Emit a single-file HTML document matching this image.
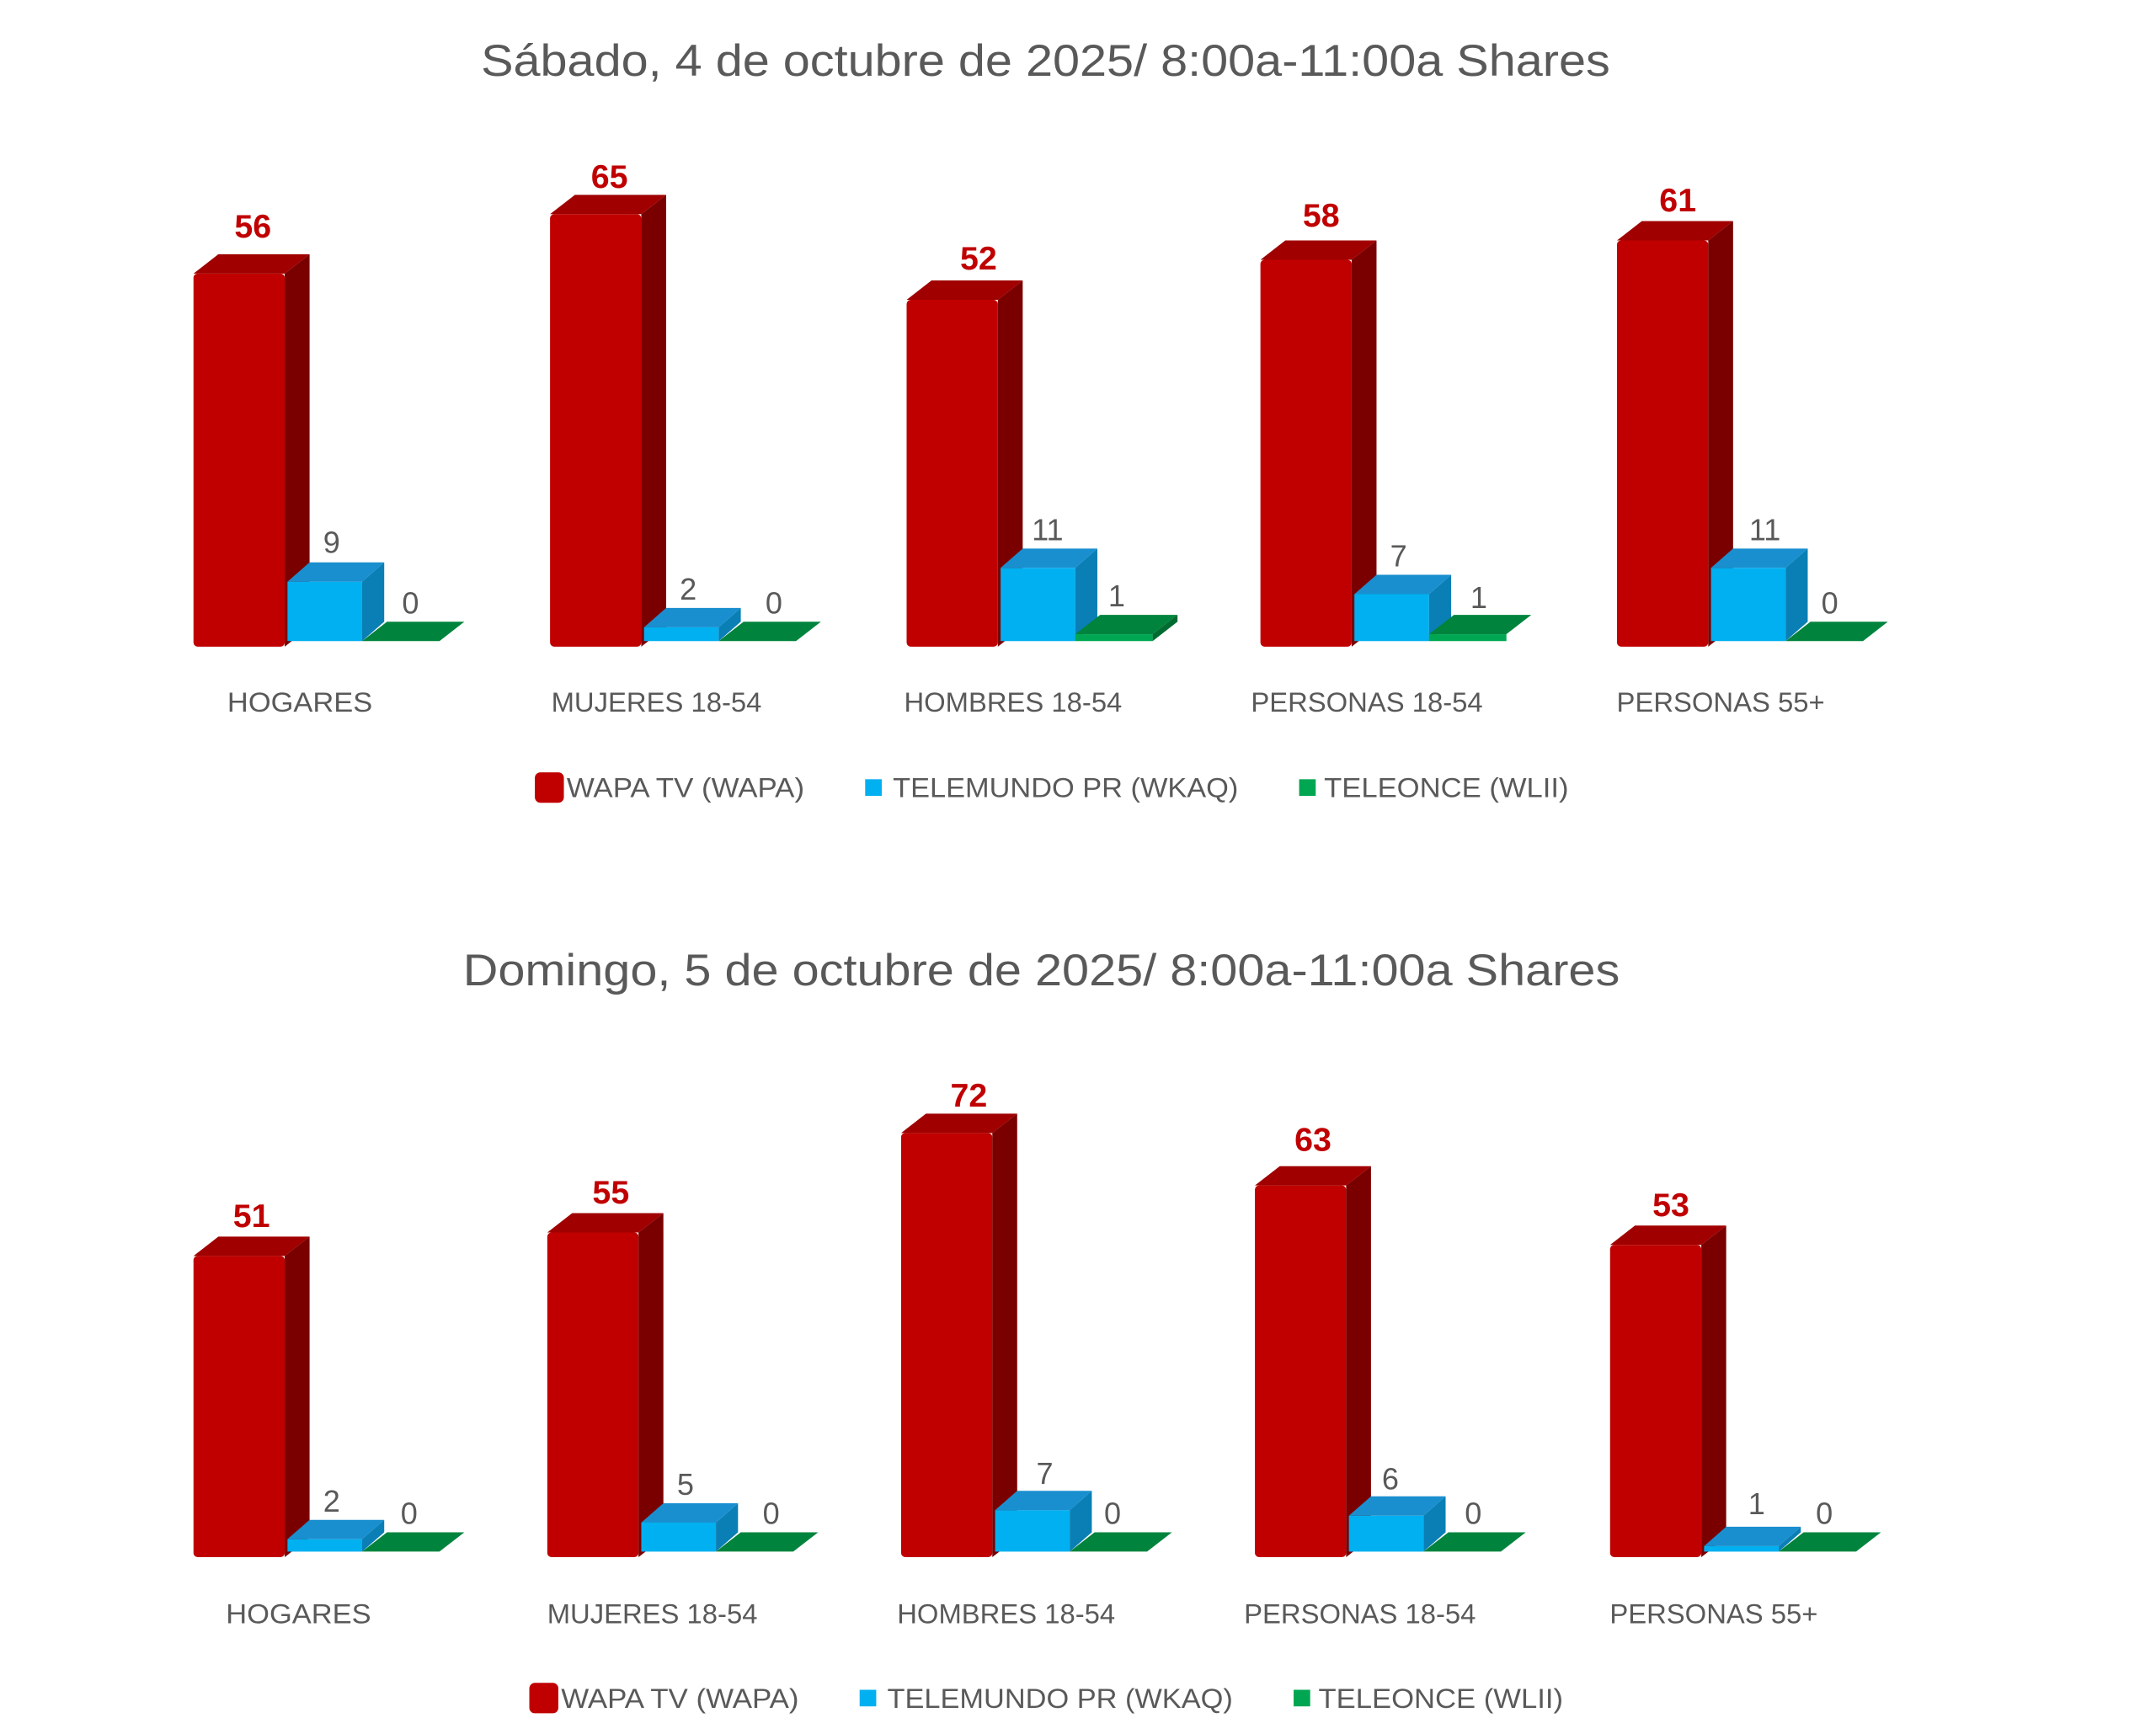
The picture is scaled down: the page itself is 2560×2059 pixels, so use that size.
<!DOCTYPE html>
<html><head><meta charset="utf-8"><style>
html,body{margin:0;padding:0;background:#fff;}
svg{display:block;}
text{font-family:"Liberation Sans",sans-serif;}
.t{font-size:32px;fill:#595959;}
.rv{font-size:24px;font-weight:bold;fill:#c00000;}
.gv{font-size:22px;fill:#595959;}
.c{font-size:20px;fill:#595959;}
.l{font-size:20px;fill:#595959;}
</style></head><body>
<svg width="2560" height="2059" viewBox="0 0 1560 1255" preserveAspectRatio="none" xmlns="http://www.w3.org/2000/svg">
<text class="t" x="348" y="55" textLength="817" lengthAdjust="spacingAndGlyphs">Sábado, 4 de octubre de 2025/ 8:00a-11:00a Shares</text>

<!-- Chart 1, b=468 -->
<g transform="translate(140,0)">
<rect x="0" y="198" width="66" height="270" rx="3" fill="#c00000"/>
<polygon points="66,198 84,184 84,454 66,468" fill="#7a0000"/>
<polygon points="0,198 18,184 84,184 66,198" fill="#a00000"/>
<rect x="68" y="421" width="54" height="43" fill="#00b0f0"/>
<polygon points="122,421 138,407 138,450 122,464" fill="#0a7fb5"/>
<polygon points="68,421 84,407 138,407 122,421" fill="#1a8fcf"/>
<polygon points="122,464 178,464 196,450 140,450" fill="#00843d"/>
<text class="rv" x="43" y="172" text-anchor="middle">56</text>
<text class="gv" x="100" y="400" text-anchor="middle">9</text>
<text class="gv" x="157" y="444" text-anchor="middle">0</text>
<text class="c" x="77" y="515" text-anchor="middle" textLength="105" lengthAdjust="spacingAndGlyphs">HOGARES</text>
</g>
<g transform="translate(398,0)">
<rect x="0" y="155" width="66" height="313" rx="3" fill="#c00000"/>
<polygon points="66,155 84,141 84,454 66,468" fill="#7a0000"/>
<polygon points="0,155 18,141 84,141 66,155" fill="#a00000"/>
<rect x="68" y="454" width="54" height="10" fill="#00b0f0"/>
<polygon points="122,454 138,440 138,450 122,464" fill="#0a7fb5"/>
<polygon points="68,454 84,440 138,440 122,454" fill="#1a8fcf"/>
<polygon points="122,464 178,464 196,450 140,450" fill="#00843d"/>
<text class="rv" x="43" y="136" text-anchor="middle">65</text>
<text class="gv" x="100" y="434" text-anchor="middle">2</text>
<text class="gv" x="162" y="444" text-anchor="middle">0</text>
<text class="c" x="77" y="515" text-anchor="middle">MUJERES 18-54</text>
</g>
<g transform="translate(656,0)">
<rect x="0" y="217" width="66" height="251" rx="3" fill="#c00000"/>
<polygon points="66,217 84,203 84,454 66,468" fill="#7a0000"/>
<polygon points="0,217 18,203 84,203 66,217" fill="#a00000"/>
<rect x="68" y="411" width="54" height="53" fill="#00b0f0"/>
<polygon points="122,411 138,397 138,450 122,464" fill="#0a7fb5"/>
<polygon points="68,411 84,397 138,397 122,411" fill="#1a8fcf"/>
<rect x="122" y="459" width="56" height="5" fill="#00a651"/>
<polygon points="122,459 178,459 196,445 140,445" fill="#00843d"/>
<polygon points="178,459 196,445 196,450 178,464" fill="#006b30"/>
<text class="rv" x="52" y="195" text-anchor="middle">52</text>
<text class="gv" x="102" y="391" text-anchor="middle">11</text>
<text class="gv" x="152" y="439" text-anchor="middle">1</text>
<text class="c" x="77" y="515" text-anchor="middle">HOMBRES 18-54</text>
</g>
<g transform="translate(912,0)">
<rect x="0" y="188" width="66" height="280" rx="3" fill="#c00000"/>
<polygon points="66,188 84,174 84,454 66,468" fill="#7a0000"/>
<polygon points="0,188 18,174 84,174 66,188" fill="#a00000"/>
<rect x="68" y="430" width="54" height="34" fill="#00b0f0"/>
<polygon points="122,430 138,416 138,450 122,464" fill="#0a7fb5"/>
<polygon points="68,430 84,416 138,416 122,430" fill="#1a8fcf"/>
<rect x="122" y="459" width="56" height="5" fill="#00a651"/>
<polygon points="122,459 178,459 196,445 140,445" fill="#00843d"/>
<text class="rv" x="44" y="164" text-anchor="middle">58</text>
<text class="gv" x="100" y="410" text-anchor="middle">7</text>
<text class="gv" x="158" y="440" text-anchor="middle">1</text>
<text class="c" x="77" y="515" text-anchor="middle">PERSONAS 18-54</text>
</g>
<g transform="translate(1170,0)">
<rect x="0" y="174" width="66" height="294" rx="3" fill="#c00000"/>
<polygon points="66,174 84,160 84,454 66,468" fill="#7a0000"/>
<polygon points="0,174 18,160 84,160 66,174" fill="#a00000"/>
<rect x="68" y="411" width="54" height="53" fill="#00b0f0"/>
<polygon points="122,411 138,397 138,450 122,464" fill="#0a7fb5"/>
<polygon points="68,411 84,397 138,397 122,411" fill="#1a8fcf"/>
<polygon points="122,464 178,464 196,450 140,450" fill="#00843d"/>
<text class="rv" x="44" y="153" text-anchor="middle">61</text>
<text class="gv" x="107" y="391" text-anchor="middle">11</text>
<text class="gv" x="154" y="444" text-anchor="middle">0</text>
<text class="c" x="75" y="515" text-anchor="middle">PERSONAS 55+</text>
</g>

<rect x="387" y="559" width="21" height="22" rx="4" fill="#c00000"/>
<text class="l" x="410" y="577" textLength="172" lengthAdjust="spacingAndGlyphs">WAPA TV (WAPA)</text>
<rect x="626" y="564" width="12" height="12" fill="#00b0f0"/>
<text class="l" x="646" y="577" textLength="250" lengthAdjust="spacingAndGlyphs">TELEMUNDO PR (WKAQ)</text>
<rect x="940" y="564" width="12" height="12" fill="#00a651"/>
<text class="l" x="958" y="577" textLength="177" lengthAdjust="spacingAndGlyphs">TELEONCE (WLII)</text>

<text class="t" x="335" y="713" textLength="837" lengthAdjust="spacingAndGlyphs">Domingo, 5 de octubre de 2025/ 8:00a-11:00a Shares</text>

<!-- Chart 2, b=1127 -->
<g transform="translate(140,0)">
<rect x="0" y="909" width="66" height="218" rx="3" fill="#c00000"/>
<polygon points="66,909 84,895 84,1113 66,1127" fill="#7a0000"/>
<polygon points="0,909 18,895 84,895 66,909" fill="#a00000"/>
<rect x="68" y="1114" width="54" height="9" fill="#00b0f0"/>
<polygon points="122,1114 138,1100 138,1109 122,1123" fill="#0a7fb5"/>
<polygon points="68,1114 84,1100 138,1100 122,1114" fill="#1a8fcf"/>
<polygon points="122,1123 178,1123 196,1109 140,1109" fill="#00843d"/>
<text class="rv" x="42" y="888" text-anchor="middle">51</text>
<text class="gv" x="100" y="1094" text-anchor="middle">2</text>
<text class="gv" x="156" y="1103" text-anchor="middle">0</text>
<text class="c" x="76" y="1175" text-anchor="middle" textLength="105" lengthAdjust="spacingAndGlyphs">HOGARES</text>
</g>
<g transform="translate(396,0)">
<rect x="0" y="892" width="66" height="235" rx="3" fill="#c00000"/>
<polygon points="66,892 84,878 84,1113 66,1127" fill="#7a0000"/>
<polygon points="0,892 18,878 84,878 66,892" fill="#a00000"/>
<rect x="68" y="1102" width="54" height="21" fill="#00b0f0"/>
<polygon points="122,1102 138,1088 138,1109 122,1123" fill="#0a7fb5"/>
<polygon points="68,1102 84,1088 138,1088 122,1102" fill="#1a8fcf"/>
<polygon points="122,1123 178,1123 196,1109 140,1109" fill="#00843d"/>
<text class="rv" x="46" y="871" text-anchor="middle">55</text>
<text class="gv" x="100" y="1082" text-anchor="middle">5</text>
<text class="gv" x="162" y="1103" text-anchor="middle">0</text>
<text class="c" x="76" y="1175" text-anchor="middle">MUJERES 18-54</text>
</g>
<g transform="translate(652,0)">
<rect x="0" y="820" width="66" height="307" rx="3" fill="#c00000"/>
<polygon points="66,820 84,806 84,1113 66,1127" fill="#7a0000"/>
<polygon points="0,820 18,806 84,806 66,820" fill="#a00000"/>
<rect x="68" y="1093" width="54" height="30" fill="#00b0f0"/>
<polygon points="122,1093 138,1079 138,1109 122,1123" fill="#0a7fb5"/>
<polygon points="68,1093 84,1079 138,1079 122,1093" fill="#1a8fcf"/>
<polygon points="122,1123 178,1123 196,1109 140,1109" fill="#00843d"/>
<text class="rv" x="49" y="801" text-anchor="middle">72</text>
<text class="gv" x="104" y="1074" text-anchor="middle">7</text>
<text class="gv" x="153" y="1103" text-anchor="middle">0</text>
<text class="c" x="76" y="1175" text-anchor="middle">HOMBRES 18-54</text>
</g>
<g transform="translate(908,0)">
<rect x="0" y="858" width="66" height="269" rx="3" fill="#c00000"/>
<polygon points="66,858 84,844 84,1113 66,1127" fill="#7a0000"/>
<polygon points="0,858 18,844 84,844 66,858" fill="#a00000"/>
<rect x="68" y="1097" width="54" height="26" fill="#00b0f0"/>
<polygon points="122,1097 138,1083 138,1109 122,1123" fill="#0a7fb5"/>
<polygon points="68,1097 84,1083 138,1083 122,1097" fill="#1a8fcf"/>
<polygon points="122,1123 178,1123 196,1109 140,1109" fill="#00843d"/>
<text class="rv" x="42" y="833" text-anchor="middle">63</text>
<text class="gv" x="98" y="1078" text-anchor="middle">6</text>
<text class="gv" x="158" y="1103" text-anchor="middle">0</text>
<text class="c" x="76" y="1175" text-anchor="middle">PERSONAS 18-54</text>
</g>
<g transform="translate(1165,0)">
<rect x="0" y="901" width="66" height="226" rx="3" fill="#c00000"/>
<polygon points="66,901 84,887 84,1113 66,1127" fill="#7a0000"/>
<polygon points="0,901 18,887 84,887 66,901" fill="#a00000"/>
<rect x="68" y="1119" width="54" height="4" fill="#00b0f0"/>
<polygon points="122,1119 138,1105 138,1109 122,1123" fill="#0a7fb5"/>
<polygon points="68,1119 84,1105 138,1105 122,1119" fill="#1a8fcf"/>
<polygon points="122,1123 178,1123 196,1109 140,1109" fill="#00843d"/>
<text class="rv" x="44" y="880" text-anchor="middle">53</text>
<text class="gv" x="106" y="1096" text-anchor="middle">1</text>
<text class="gv" x="155" y="1103" text-anchor="middle">0</text>
<text class="c" x="75" y="1175" text-anchor="middle">PERSONAS 55+</text>
</g>

<rect x="383" y="1218" width="21" height="22" rx="4" fill="#c00000"/>
<text class="l" x="406" y="1236" textLength="172" lengthAdjust="spacingAndGlyphs">WAPA TV (WAPA)</text>
<rect x="622" y="1223" width="12" height="12" fill="#00b0f0"/>
<text class="l" x="642" y="1236" textLength="250" lengthAdjust="spacingAndGlyphs">TELEMUNDO PR (WKAQ)</text>
<rect x="936" y="1223" width="12" height="12" fill="#00a651"/>
<text class="l" x="954" y="1236" textLength="177" lengthAdjust="spacingAndGlyphs">TELEONCE (WLII)</text>
</svg>
</body></html>
